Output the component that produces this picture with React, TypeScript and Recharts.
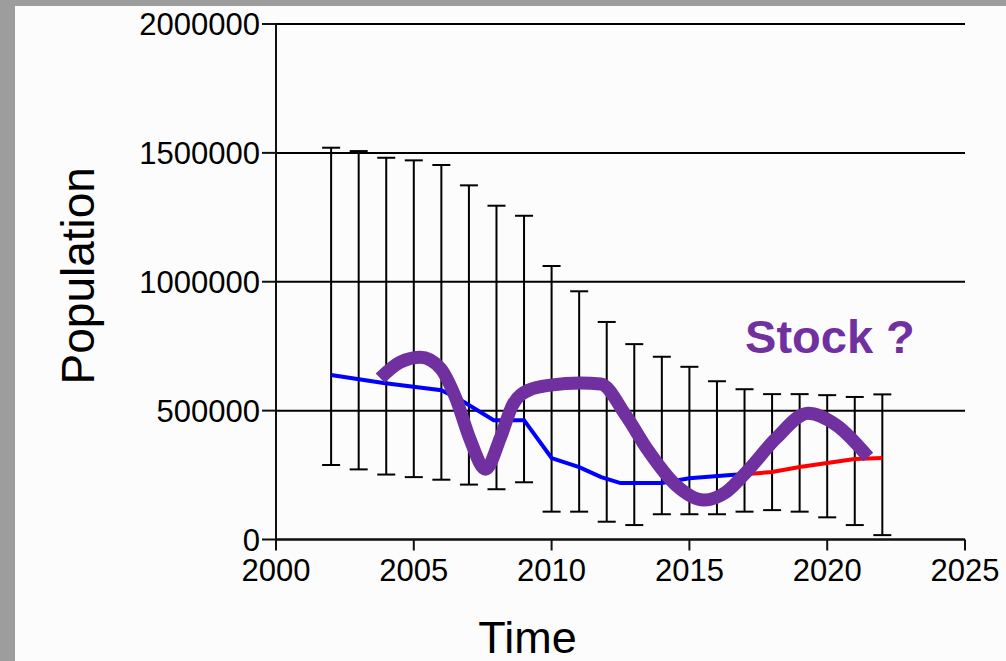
import React from 'react';
import { LineChart, Line, XAxis, YAxis, CartesianGrid, ErrorBar, ReferenceDot } from 'recharts';

const years = [2002, 2003, 2004, 2005, 2006, 2007, 2008, 2009, 2010, 2011, 2012, 2013, 2014, 2015, 2016, 2017, 2018, 2019, 2020, 2021, 2022];
const upperBound = [1520000, 1507000, 1481000, 1471000, 1453000, 1374000, 1295000, 1256000, 1061000, 963000, 844000, 758000, 709000, 670000, 614000, 583000, 564000, 564000, 560000, 553000, 563000];
const lowerBound = [289000, 272000, 252000, 242000, 232000, 213000, 195000, 222000, 108000, 108000, 69000, 56000, 98000, 98000, 98000, 108000, 114000, 108000, 86000, 56000, 17000];

const blueYears = [2002, 2003.9, 2006, 2006.7, 2007.9, 2009, 2010, 2011, 2011.8, 2012.5, 2014, 2015, 2016.5, 2017.1];
const blueValues = [638000, 607000, 579000, 541000, 463000, 463000, 316000, 281000, 242000, 219000, 219000, 238000, 250000, 254000];

const redYears = [2017.1, 2018, 2019, 2020, 2021, 2022];
const redValues = [254000, 262000, 281000, 297000, 312000, 316000];

const stockYears = [2003.78, 2004.51, 2005.24, 2005.96, 2006.51, 2007.05, 2007.6, 2008.15, 2008.58, 2009.16, 2009.96, 2011.05, 2011.78, 2012.69, 2013.49, 2014.51, 2015.53, 2016.33, 2017.13, 2018.15, 2019.31, 2020.33, 2021.49];
const stockValues = [626000, 688000, 707000, 665000, 552000, 386000, 273000, 397000, 521000, 579000, 599000, 607000, 603000, 482000, 347000, 211000, 153000, 184000, 269000, 393000, 490000, 444000, 320000];

const xTicks = [2000, 2005, 2010, 2015, 2020, 2025];
const yTicks = [0, 500000, 1000000, 1500000, 2000000];

const FONT = '"Liberation Sans", Arial, sans-serif';
const PURPLE = '#7030A0';

const errData = years.map((year, i) => ({
  year,
  mid: (upperBound[i] + lowerBound[i]) / 2,
  err: (upperBound[i] - lowerBound[i]) / 2,
}));
const blueData = blueYears.map((year, i) => ({ year, v: blueValues[i] }));
const redData = redYears.map((year, i) => ({ year, v: redValues[i] }));
const stockData = stockYears.map((year, i) => ({ year, v: stockValues[i] }));

export default function App() {
  return (
    <div style={{ position: 'absolute', left: 0, top: 0, width: 1006, height: 661, background: '#9d9d9d', overflow: 'hidden' }}>
      <div style={{ position: 'absolute', left: 15, top: 6, width: 991, height: 655, background: '#fcfcfc' }} />
      <div style={{ position: 'absolute', left: 0, top: 0 }}>
        <LineChart width={1006} height={661} margin={{ top: 24, right: 41, bottom: 0, left: 0 }}>
          <CartesianGrid vertical={false} stroke="#000" strokeWidth={2} />
          <XAxis
            dataKey="year"
            type="number"
            domain={[2000, 2025]}
            ticks={xTicks}
            allowDataOverflow
            height={121.5}
            tickSize={11}
            tickMargin={8}
            stroke="#111"
            strokeWidth={2}
            tick={{ fill: '#000', fontSize: 31, fontFamily: FONT }}
            label={{ value: 'Time', position: 'center', dx: -93, dy: 37, fill: '#000', fontSize: 45, fontFamily: FONT }}
          />
          <YAxis
            type="number"
            domain={[0, 2000000]}
            ticks={yTicks}
            allowDataOverflow
            width={276}
            tickSize={14}
            tickMargin={2}
            stroke="#111"
            strokeWidth={2}
            tick={{ fill: '#000', fontSize: 31, fontFamily: FONT }}
            label={{ value: 'Population', position: 'center', angle: -90, dx: -60, dy: -6, fill: '#000', fontSize: 46, fontFamily: FONT }}
          />
          <Line data={errData} dataKey="mid" stroke="none" dot={false} activeDot={false} isAnimationActive={false}>
            <ErrorBar dataKey="err" direction="y" width={9} stroke="#000" strokeWidth={2} isAnimationActive={false} />
          </Line>
          <Line data={blueData} dataKey="v" type="linear" stroke="#0000ff" strokeWidth={4} dot={false} activeDot={false} isAnimationActive={false} />
          <Line data={redData} dataKey="v" type="linear" stroke="#ff0000" strokeWidth={4} dot={false} activeDot={false} isAnimationActive={false} />
          <Line data={stockData} dataKey="v" type="monotone" stroke={PURPLE} strokeWidth={13} dot={false} activeDot={false} isAnimationActive={false} />
          <ReferenceDot
            x={2020.1}
            y={787000}
            r={0}
            fill="none"
            stroke="none"
            label={{ value: 'Stock ?', position: 'center', fill: PURPLE, fontSize: 47, fontWeight: 'bold', fontFamily: FONT }}
          />
        </LineChart>
      </div>
    </div>
  );
}
